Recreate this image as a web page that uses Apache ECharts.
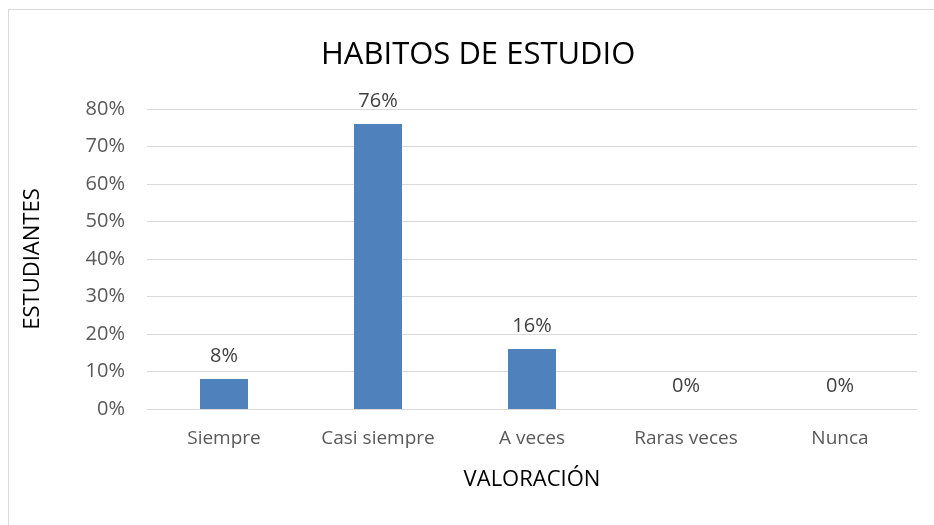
<!DOCTYPE html>
<html>
<head>
<meta charset="utf-8">
<script src="https://cdn.jsdelivr.net/npm/echarts@6/dist/echarts.min.js"></script>
<style>
  html, body { margin: 0; padding: 0; background: #fff; }
  #frame {
    position: absolute; left: 8px; top: 9px;
    width: 960px; height: 560px;
    border: 1px solid #d9d9d9; box-sizing: border-box;
  }
  #main { position: absolute; left: 0; top: 0; width: 934px; height: 525px; }
</style>
</head>
<body>
<div id="frame"></div>
<div id="main"></div>
<script>
var categories = ["Siempre", "Casi siempre", "A veces", "Raras veces", "Nunca"];
var percentages = [8, 76, 16, 0, 0];
var yTicks = [0, 10, 20, 30, 40, 50, 60, 70, 80];

var font = "'Open Sans', 'Liberation Sans', sans-serif";
var chart = echarts.init(document.getElementById("main"));

var option = {
  backgroundColor: "transparent",
  animation: false,
  title: {
    text: "HABITOS DE ESTUDIO",
    left: 316,
    top: 35,
    textStyle: { fontFamily: font, fontSize: 31, fontWeight: "normal", color: "#000" }
  },
  grid: { left: 147, right: 17, top: 109, bottom: 116 },
  xAxis: {
    type: "category",
    data: categories,
    name: "VALORACIÓN",
    nameLocation: "middle",
    nameGap: 60,
    nameTextStyle: { fontFamily: font, fontSize: 22, color: "#000" },
    axisLine: { lineStyle: { color: "#d9d9d9", width: 1 } },
    axisTick: { show: false },
    axisLabel: { interval: 0, fontFamily: font, fontSize: 19, color: "#595959", margin: 20 }
  },
  yAxis: {
    type: "value",
    min: yTicks[0],
    max: yTicks[yTicks.length - 1],
    interval: 10,
    name: "ESTUDIANTES",
    nameLocation: "middle",
    nameGap: 103,
    nameTextStyle: { fontFamily: font, fontSize: 22, color: "#000" },
    axisLine: { show: false },
    axisTick: { show: false },
    axisLabel: {
      fontFamily: font, fontSize: 20, color: "#595959", margin: 22,
      formatter: function (v) { return v + "%"; }
    },
    splitLine: { lineStyle: { color: "#d9d9d9", width: 1 } }
  },
  series: [{
    type: "bar",
    data: percentages,
    barWidth: 48,
    itemStyle: { color: "#4F81BD" },
    label: {
      show: true,
      position: "top",
      distance: 13,
      fontFamily: font,
      fontSize: 20,
      color: "#404040",
      formatter: function (p) { return p.value + "%"; }
    }
  }]
};

chart.setOption(option);
</script>
</body>
</html>
